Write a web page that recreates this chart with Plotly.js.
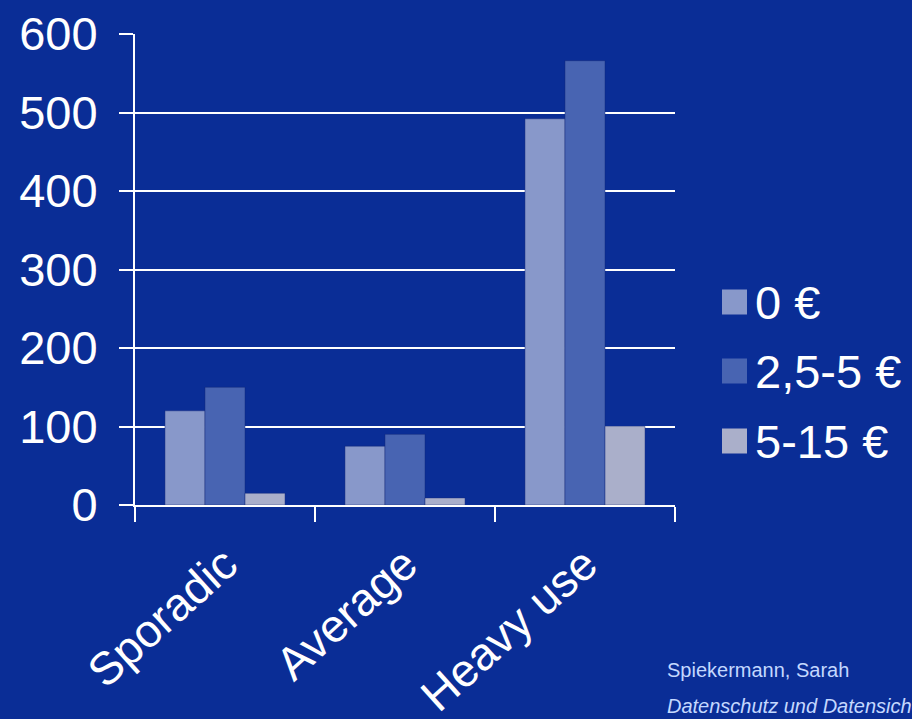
<!DOCTYPE html>
<html>
<head>
<meta charset="utf-8">
<script src="https://cdn.plot.ly/plotly-3.0.1.min.js"></script>
<style>html,body{margin:0;padding:0;background:#0a2d96;}#chart{width:912px;height:719px;}</style>
</head>
<body>
<div id="chart"></div>
<script>
const categories = ["Sporadic", "Average", "Heavy use"];
const seriesNames = ["0 €", "2,5-5 €", "5-15 €"];
const values0 = [120, 75, 492];
const values25 = [150, 90, 566];
const values515 = [15, 9, 100];
const yTickVals = [0, 100, 200, 300, 400, 500, 600];
const seriesColors = ["#8898ca", "#4864b2", "#aaafca"];
const footLines = ["Spiekermann, Sarah", "<i>Datenschutz und Datensicherheit</i>"];

const allValues = [values0, values25, values515];
const W = 912, H = 719;
const M = {l: 135, r: 237, t: 34, b: 214};
const pw = W - M.l - M.r, ph = H - M.t - M.b;
const px = x => (x - M.l) / pw;
const py = y => (H - M.b - y) / ph;

const traces = seriesNames.map((n, i) => ({
  type: "bar",
  name: n,
  x: categories,
  y: allValues[i],
  marker: {color: seriesColors[i], line: {color: "rgba(20,40,120,0.45)", width: 1}},
  hoverinfo: "x+y+name"
}));

const shapes = [];
const annotations = [];
const legY = [302, 371, 441];
seriesNames.forEach((n, i) => {
  shapes.push({type: "rect", xref: "paper", yref: "paper",
    x0: px(722), x1: px(747), y0: py(legY[i] + 12.5), y1: py(legY[i] - 12.5),
    fillcolor: seriesColors[i], line: {width: 0}});
  annotations.push({xref: "paper", yref: "paper", x: px(753), y: py(legY[i]),
    xanchor: "left", yanchor: "middle", showarrow: false, text: n,
    font: {family: "Liberation Sans, Arial, sans-serif", size: 47, color: "#ffffff"}});
});
footLines.forEach((t, i) => {
  annotations.push({xref: "paper", yref: "paper", x: px(665), y: py(670 + i * 36),
    xanchor: "left", yanchor: "middle", showarrow: false, text: t,
    font: {family: "Liberation Sans, Arial, sans-serif", size: 20, color: "#c4d8ff"}});
});

const layout = {
  width: W, height: H,
  margin: M,
  paper_bgcolor: "#0a2d96",
  plot_bgcolor: "#0a2d96",
  font: {family: "Liberation Sans, Arial, sans-serif", color: "#ffffff"},
  barmode: "group",
  bargap: 0.333,
  bargroupgap: 0,
  showlegend: false,
  xaxis: {
    type: "category",
    showgrid: false,
    showline: true, linecolor: "#ffffff", linewidth: 2,
    ticks: "outside", tickson: "boundaries", ticklen: 15, tickwidth: 2, tickcolor: "#ffffff",
    tickangle: -42,
    ticklabelstandoff: 12,
    tickfont: {size: 46, color: "#ffffff"},
    automargin: false
  },
  yaxis: {
    range: [0, 600],
    tickvals: yTickVals,
    showgrid: true, gridcolor: "#ffffff", gridwidth: 2,
    zeroline: false,
    showline: true, linecolor: "#ffffff", linewidth: 2,
    ticks: "outside", ticklen: 14, tickwidth: 2, tickcolor: "#ffffff",
    ticklabelstandoff: 12,
    tickfont: {size: 47, color: "#ffffff"},
    automargin: false
  },
  shapes: shapes,
  annotations: annotations
};

Plotly.newPlot("chart", traces, layout, {displayModeBar: false, staticPlot: true});
</script>
</body>
</html>
